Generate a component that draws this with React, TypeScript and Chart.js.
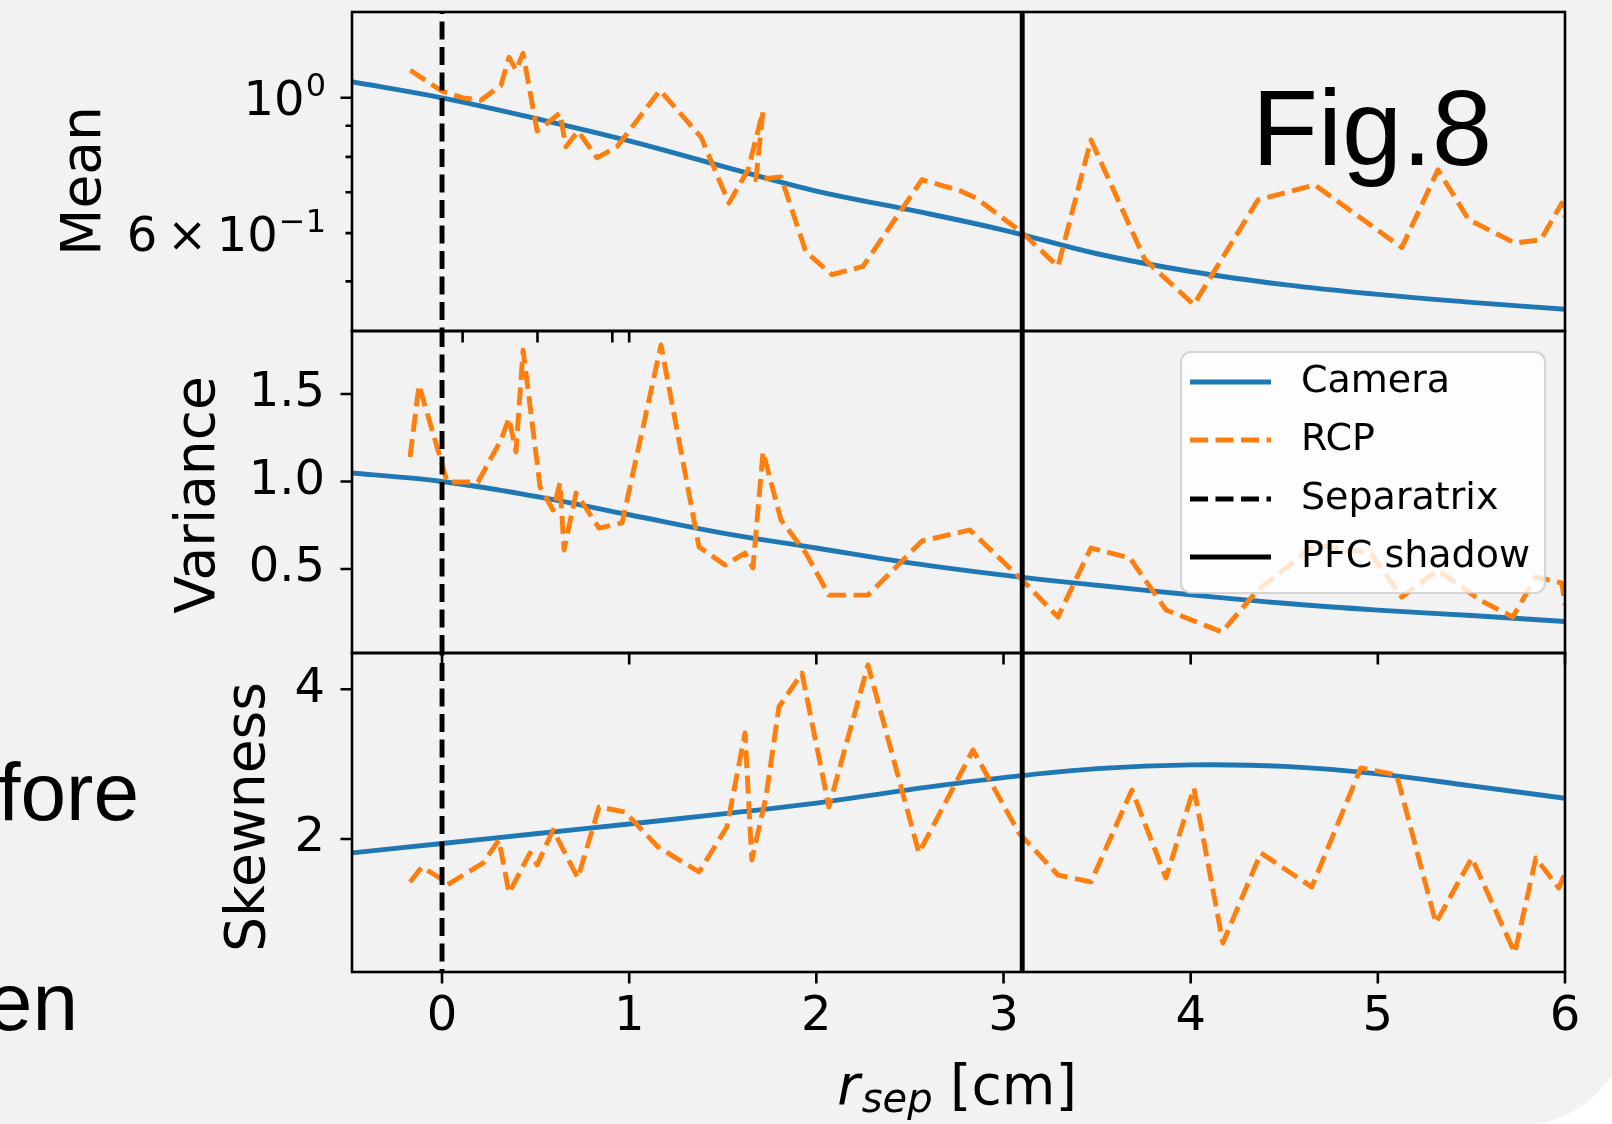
import React, { useEffect, useRef } from 'react';
import { Chart, registerables } from 'chart.js';

Chart.register(...registerables);

// ---------------- data ----------------
const xMin = -0.481;
const xMax = 6;
const xTickValues = [0, 1, 2, 3, 4, 5, 6];
const xTickLabels = ['0', '1', '2', '3', '4', '5', '6'];
const meanPanelXTickMarks = [0.11, 0.51, 0.91, 1.0];
const separatrixX = 0;
const pfcShadowX = 3.1;

const cameraX = [-0.5, 0, 0.5, 1, 1.5, 2, 2.5, 3, 3.5, 4, 4.5, 5, 5.5, 6];
const cameraMean = [1.065, 1.0, 0.925, 0.85, 0.772, 0.703, 0.655, 0.607, 0.555, 0.519, 0.494, 0.476, 0.462, 0.45];
const cameraVariance = [1.05, 1.0, 0.915, 0.81, 0.705, 0.62, 0.535, 0.465, 0.407, 0.353, 0.304, 0.265, 0.234, 0.2];
const cameraSkewness = [1.81, 1.94, 2.07, 2.2, 2.335, 2.48, 2.66, 2.82, 2.94, 2.99, 2.97, 2.87, 2.71, 2.545];

const rcpMeanX = [-0.17, 0.0, 0.112, 0.208, 0.315, 0.358, 0.395, 0.433, 0.508, 0.63, 0.662, 0.727, 0.828, 0.935, 1.165, 1.384, 1.533, 1.635, 1.715, 1.677, 1.811, 1.944, 2.083, 2.249, 2.564, 2.767, 2.853, 3.1, 3.291, 3.467, 3.755, 4.017, 4.359, 4.663, 5.128, 5.321, 5.486, 5.732, 5.871, 5.983, 6.0];
const rcpMean = [1.11, 1.025, 1.0, 0.991, 1.049, 1.166, 1.11, 1.183, 0.882, 0.944, 0.831, 0.882, 0.797, 0.831, 1.029, 0.862, 0.672, 0.762, 0.951, 0.734, 0.742, 0.559, 0.513, 0.529, 0.734, 0.704, 0.685, 0.601, 0.529, 0.853, 0.543, 0.458, 0.68, 0.72, 0.568, 0.762, 0.631, 0.578, 0.585, 0.672, 0.638];

const rcpVarianceX = [-0.171, -0.123, -0.011, 0.027, 0.192, 0.315, 0.358, 0.395, 0.433, 0.524, 0.593, 0.63, 0.652, 0.716, 0.839, 0.962, 1.17, 1.373, 1.512, 1.619, 1.661, 1.715, 1.811, 1.944, 2.067, 2.276, 2.564, 2.821, 3.1, 3.291, 3.467, 3.675, 3.868, 4.167, 4.359, 4.663, 4.962, 5.128, 5.321, 5.545, 5.721, 5.844, 5.983, 6.0];
const rcpVariance = [1.14, 1.551, 1.14, 0.997, 0.997, 1.237, 1.363, 1.169, 1.751, 0.969, 0.837, 0.991, 0.609, 0.934, 0.734, 0.763, 1.78, 0.626, 0.523, 0.591, 0.506, 1.169, 0.78, 0.591, 0.351, 0.351, 0.66, 0.723, 0.437, 0.226, 0.62, 0.563, 0.266, 0.14, 0.38, 0.637, 0.591, 0.34, 0.494, 0.323, 0.226, 0.454, 0.42, 0.294];

const rcpSkewnessX = [-0.171, -0.107, -0.011, 0.027, 0.219, 0.304, 0.358, 0.47, 0.508, 0.593, 0.726, 0.839, 0.978, 1.154, 1.373, 1.522, 1.619, 1.655, 1.731, 1.8, 1.923, 2.067, 2.276, 2.548, 2.837, 3.082, 3.291, 3.467, 3.686, 3.868, 4.017, 4.172, 4.375, 4.647, 4.909, 5.101, 5.31, 5.502, 5.732, 5.844, 5.967, 6.0];
const rcpSkewness = [1.426, 1.626, 1.479, 1.385, 1.679, 1.987, 1.279, 1.813, 1.653, 2.12, 1.479, 2.428, 2.361, 1.893, 1.559, 2.16, 3.416, 1.72, 2.561, 3.764, 4.218, 2.428, 4.325, 1.813, 3.189, 2.08, 1.519, 1.426, 2.655, 1.479, 2.681, 0.611, 1.813, 1.359, 2.949, 2.855, 0.878, 1.746, 0.477, 1.746, 1.345, 1.546];

const meanAxisRange = [0.4146, 1.3827];
const meanTickValues = [0.6, 1.0];
const meanTickBase = ['6\u2009\u00d7\u200910', '10'];
const meanTickExponent = ['\u22121', '0'];
const meanMajorTickMarks = [1.0];
const meanMinorTickMarks = [0.5, 0.6, 0.7, 0.8, 0.9];

const varianceAxisRange = [0.02, 1.86];
const varianceTickValues = [0.5, 1.0, 1.5];
const varianceTickLabels = ['0.5', '1.0', '1.5'];

const skewnessAxisRange = [0.223, 4.485];
const skewnessTickValues = [2, 4];
const skewnessTickLabels = ['2', '4'];

const legendLabels = ['Camera', 'RCP', 'Separatrix', 'PFC shadow'];

// ---------------- styles ----------------
const FAMILY = "'DejaVu Sans', sans-serif";
const SLIDE_FAMILY = "'Liberation Sans', Arial, sans-serif";
const BG = '#f2f2f2';
const BLUE = '#1f77b4';
const ORANGE = '#ff7f0e';
const LW = 4.9;
const DASH = [18, 7.5];
const SPINE_W = 2.6;
const MAJOR_LEN = 11.5;
const MINOR_LEN = 6.5;
const PLOT_LEFT = 352;
const PAGE_W = 1612;
const PLOT_RIGHT = 1565;
const TICK_LABEL_RIGHT = 325;

type PanelSpec = {
  canvasTop: number;
  canvasHeight: number;
  padTop: number;
  padBottom: number;
  showX: boolean;
  xAxisHeight: number;
  yType: 'linear' | 'logarithmic';
  yRange: number[];
  yTickValues: number[];
  yTickLabels: string[];
  yLongTicks: number[];
  yShortTicks: number[];
  xTickMarks: number[];
  title: string;
  titleX: number;
  titleY: number;
  cameraY: number[];
  rcpX: number[];
  rcpY: number[];
  vLo: number;
  vHi: number;
  extra?: (ctx: CanvasRenderingContext2D, off: number, chart: any) => void;
};

function roundRectPath(ctx: CanvasRenderingContext2D, x: number, y: number, w: number, h: number, r: number) {
  ctx.beginPath();
  ctx.moveTo(x + r, y);
  ctx.lineTo(x + w - r, y);
  ctx.arcTo(x + w, y, x + w, y + r, r);
  ctx.lineTo(x + w, y + h - r);
  ctx.arcTo(x + w, y + h, x + w - r, y + h, r);
  ctx.lineTo(x + r, y + h);
  ctx.arcTo(x, y + h, x, y + h - r, r);
  ctx.lineTo(x, y + r);
  ctx.arcTo(x, y, x + r, y, r);
  ctx.closePath();
}

function drawTopExtras(ctx: CanvasRenderingContext2D, off: number, chart: any) {
  const ys = chart.scales.y;
  ctx.save();
  ctx.fillStyle = '#000';
  // log-axis tick labels with superscript exponents (mathtext style)
  ctx.textBaseline = 'alphabetic';
  ctx.textAlign = 'left';
  meanTickValues.forEach((v, i) => {
    const py = ys.getPixelForValue(v);
    const base = py + 17.5;
    ctx.font = `32px ${FAMILY}`;
    const wSup = ctx.measureText(meanTickExponent[i]).width;
    ctx.font = `48px ${FAMILY}`;
    const wBase = ctx.measureText(meanTickBase[i]).width;
    const x0 = TICK_LABEL_RIGHT + 1 - wSup - wBase - 1;
    ctx.fillText(meanTickBase[i], x0, base);
    ctx.font = `32px ${FAMILY}`;
    ctx.fillText(meanTickExponent[i], x0 + wBase + 1, base - 19);
  });
  // slide text
  ctx.font = `108px ${SLIDE_FAMILY}`;
  ctx.fillText('Fig.8', 1252, 165 - off);
  ctx.restore();
}

function drawLegend(ctx: CanvasRenderingContext2D, off: number) {
  const styles = [
    { color: BLUE, dash: [] as number[] },
    { color: ORANGE, dash: DASH },
    { color: '#000', dash: DASH },
    { color: '#000', dash: [] as number[] },
  ];
  const rows = [382, 440, 499, 557];
  ctx.save();
  roundRectPath(ctx, 1181, 352 - off, 364, 241, 10);
  ctx.fillStyle = 'rgba(255,255,255,0.8)';
  ctx.fill();
  ctx.strokeStyle = 'rgba(204,204,204,0.8)';
  ctx.lineWidth = 2.2;
  ctx.stroke();
  legendLabels.forEach((label, i) => {
    const y = rows[i] - off;
    ctx.beginPath();
    ctx.setLineDash(styles[i].dash);
    ctx.strokeStyle = styles[i].color;
    ctx.lineWidth = LW;
    ctx.moveTo(1190, y);
    ctx.lineTo(1271, y);
    ctx.stroke();
    ctx.setLineDash([]);
    ctx.fillStyle = '#000';
    ctx.font = `38px ${FAMILY}`;
    ctx.textAlign = 'left';
    ctx.textBaseline = 'middle';
    ctx.fillText(label, 1301, y);
  });
  ctx.restore();
}

function drawBottomExtras(ctx: CanvasRenderingContext2D, off: number) {
  ctx.save();
  ctx.fillStyle = '#000';
  ctx.textBaseline = 'alphabetic';
  // x-axis label: r_sep [cm]
  const itFont = `italic 55px ${FAMILY}`;
  const subFont = `italic 40px ${FAMILY}`;
  const mainFont = `55px ${FAMILY}`;
  ctx.font = itFont;
  const wr = ctx.measureText('r').width;
  ctx.font = subFont;
  const ws = ctx.measureText('sep').width;
  ctx.font = mainFont;
  const wc = ctx.measureText(' [cm]').width;
  const total = wr + 2 + ws + wc;
  let x = 957 - total / 2;
  const base = 1104 - off;
  ctx.textAlign = 'left';
  ctx.font = itFont;
  ctx.fillText('r', x, base);
  x += wr + 2;
  ctx.font = subFont;
  ctx.fillText('sep', x, base + 8);
  x += ws;
  ctx.font = mainFont;
  ctx.fillText(' [cm]', x, base);
  // slide text fragments
  ctx.font = `82px ${SLIDE_FAMILY}`;
  ctx.textAlign = 'right';
  ctx.fillText('fore', 139, 820 - off);
  ctx.fillText('en', 78, 1030 - off);
  ctx.restore();
}

const topPanel: PanelSpec = {
  canvasTop: 0,
  canvasHeight: 360,
  padTop: 12,
  padBottom: 29,
  showX: false,
  xAxisHeight: 0,
  yType: 'logarithmic',
  yRange: meanAxisRange,
  yTickValues: meanTickValues,
  yTickLabels: ['', ''],
  yLongTicks: meanMajorTickMarks,
  yShortTicks: meanMinorTickMarks,
  xTickMarks: meanPanelXTickMarks,
  title: 'Mean',
  titleX: 86,
  titleY: 181,
  cameraY: cameraMean,
  rcpX: rcpMeanX,
  rcpY: rcpMean,
  vLo: 0.2,
  vHi: 3,
  extra: drawTopExtras,
};

const middlePanel: PanelSpec = {
  canvasTop: 300,
  canvasHeight: 380,
  padTop: 31,
  padBottom: 27,
  showX: false,
  xAxisHeight: 0,
  yType: 'linear',
  yRange: varianceAxisRange,
  yTickValues: varianceTickValues,
  yTickLabels: varianceTickLabels,
  yLongTicks: varianceTickValues,
  yShortTicks: [],
  xTickMarks: xTickValues,
  title: 'Variance',
  titleX: 200,
  titleY: 495,
  cameraY: cameraVariance,
  rcpX: rcpVarianceX,
  rcpY: rcpVariance,
  vLo: -1,
  vHi: 3,
  extra: drawLegend,
};

const bottomPanel: PanelSpec = {
  canvasTop: 620,
  canvasHeight: 504,
  padTop: 33,
  padBottom: 0,
  showX: true,
  xAxisHeight: 152,
  yType: 'linear',
  yRange: skewnessAxisRange,
  yTickValues: skewnessTickValues,
  yTickLabels: skewnessTickLabels,
  yLongTicks: skewnessTickValues,
  yShortTicks: [],
  xTickMarks: xTickValues,
  title: 'Skewness',
  titleX: 250,
  titleY: 817,
  cameraY: cameraSkewness,
  rcpX: rcpSkewnessX,
  rcpY: rcpSkewness,
  vLo: -1,
  vHi: 6,
  extra: drawBottomExtras,
};

function labelFor(values: number[], labels: string[], v: number) {
  const i = values.findIndex((t) => Math.abs(t - v) < 1e-9);
  return i >= 0 ? labels[i] : '';
}

function buildPanel(canvas: HTMLCanvasElement, p: PanelSpec) {
  const pts = (xs: number[], ys: number[]) => xs.map((x, i) => ({ x, y: ys[i] }));
  const vline = (x: number) => [
    { x, y: p.vLo },
    { x, y: p.vHi },
  ];
  const datasets: any[] = [
    {
      label: 'PFC shadow',
      data: vline(pfcShadowX),
      borderColor: '#000',
      borderWidth: LW,
      pointRadius: 0,
      clip: 0,
      order: 0,
    },
    {
      label: 'Separatrix',
      data: vline(separatrixX),
      borderColor: '#000',
      borderWidth: LW,
      borderDash: DASH,
      pointRadius: 0,
      clip: 0,
      order: 1,
    },
    {
      label: 'RCP',
      data: pts(p.rcpX, p.rcpY),
      borderColor: ORANGE,
      borderWidth: LW,
      borderDash: DASH,
      borderJoinStyle: 'round',
      pointRadius: 0,
      tension: 0,
      clip: 0,
      order: 2,
    },
    {
      label: 'Camera',
      data: pts(cameraX, p.cameraY),
      borderColor: BLUE,
      borderWidth: LW,
      borderJoinStyle: 'round',
      pointRadius: 0,
      tension: 0.4,
      clip: 0,
      order: 3,
    },
  ];

  const decor = {
    id: 'decor' + p.title,
    afterDraw(chart: any) {
      const ctx: CanvasRenderingContext2D = chart.ctx;
      const { left, right, top, bottom } = chart.chartArea;
      const xs = chart.scales.x;
      const ys = chart.scales.y;
      ctx.save();
      ctx.setLineDash([]);
      ctx.strokeStyle = '#000';
      ctx.lineWidth = SPINE_W;
      ctx.lineCap = 'butt';
      ctx.beginPath();
      p.yLongTicks.forEach((v) => {
        const py = ys.getPixelForValue(v);
        ctx.moveTo(left - MAJOR_LEN, py);
        ctx.lineTo(left, py);
      });
      p.yShortTicks.forEach((v) => {
        const py = ys.getPixelForValue(v);
        ctx.moveTo(left - MINOR_LEN, py);
        ctx.lineTo(left, py);
      });
      p.xTickMarks.forEach((v) => {
        const px = xs.getPixelForValue(v);
        ctx.moveTo(px, bottom);
        ctx.lineTo(px, bottom + MAJOR_LEN);
      });
      ctx.stroke();
      ctx.strokeRect(left, top, right - left, bottom - top);
      // y-axis label
      ctx.fillStyle = '#000';
      ctx.font = `55px ${FAMILY}`;
      ctx.textAlign = 'center';
      ctx.textBaseline = 'middle';
      ctx.translate(p.titleX, p.titleY - p.canvasTop);
      ctx.rotate(-Math.PI / 2);
      ctx.fillText(p.title, 0, 0);
      ctx.restore();
      if (p.extra) p.extra(ctx, p.canvasTop, chart);
    },
  };

  return new Chart(canvas, {
    type: 'line',
    data: { datasets },
    options: {
      animation: false,
      responsive: false,
      maintainAspectRatio: false,
      devicePixelRatio: 1,
      events: [],
      layout: { padding: { left: 0, right: PAGE_W - PLOT_RIGHT, top: p.padTop, bottom: p.padBottom } },
      plugins: { legend: { display: false }, tooltip: { enabled: false }, title: { display: false } },
      scales: {
        x: {
          type: 'linear',
          min: xMin,
          max: xMax,
          display: p.showX,
          grid: { display: false, drawTicks: false },
          border: { display: false },
          afterBuildTicks: (s: any) => {
            s.ticks = xTickValues.map((v) => ({ value: v }));
          },
          afterFit: (s: any) => {
            s.height = p.xAxisHeight;
            s.paddingLeft = 0;
            s.paddingRight = 0;
          },
          ticks: {
            autoSkip: false,
            maxRotation: 0,
            minRotation: 0,
            padding: 17,
            color: '#000',
            font: { size: 48, family: FAMILY },
            callback: (v: any) => labelFor(xTickValues, xTickLabels, Number(v)),
          },
        },
        y: {
          type: p.yType,
          position: 'left',
          min: p.yRange[0],
          max: p.yRange[1],
          grid: { display: false, drawTicks: false },
          border: { display: false },
          afterBuildTicks: (s: any) => {
            s.ticks = p.yTickValues.map((v) => ({ value: v }));
          },
          afterFit: (s: any) => {
            s.width = PLOT_LEFT;
            s.paddingTop = 0;
            s.paddingBottom = 0;
          },
          ticks: {
            autoSkip: false,
            padding: PLOT_LEFT - TICK_LABEL_RIGHT,
            color: '#000',
            font: { size: 48, family: FAMILY },
            callback: (v: any) => labelFor(p.yTickValues, p.yTickLabels, Number(v)),
          },
        },
      },
    } as any,
    plugins: [decor],
  });
}

export default function App() {
  const topRef = useRef<HTMLCanvasElement>(null);
  const midRef = useRef<HTMLCanvasElement>(null);
  const botRef = useRef<HTMLCanvasElement>(null);

  useEffect(() => {
    const charts = [
      buildPanel(topRef.current as HTMLCanvasElement, topPanel),
      buildPanel(midRef.current as HTMLCanvasElement, middlePanel),
      buildPanel(botRef.current as HTMLCanvasElement, bottomPanel),
    ];
    return () => charts.forEach((c) => c.destroy());
  }, []);

  const canvasStyle = (p: PanelSpec): React.CSSProperties => ({
    position: 'absolute',
    left: 0,
    top: p.canvasTop,
    width: PAGE_W,
    height: p.canvasHeight,
  });

  return (
    <div
      style={{
        position: 'fixed',
        left: 0,
        top: 0,
        width: PAGE_W,
        height: 1124,
        background: '#ffffff',
        overflow: 'hidden',
      }}
    >
      <div
        style={{
          position: 'absolute',
          left: 0,
          top: 0,
          width: 1630,
          height: 1125,
          background: BG,
          borderBottomRightRadius: 110,
        }}
      />
      <canvas ref={topRef} width={PAGE_W} height={topPanel.canvasHeight} style={canvasStyle(topPanel)} />
      <canvas ref={midRef} width={PAGE_W} height={middlePanel.canvasHeight} style={canvasStyle(middlePanel)} />
      <canvas ref={botRef} width={PAGE_W} height={bottomPanel.canvasHeight} style={canvasStyle(bottomPanel)} />
    </div>
  );
}
